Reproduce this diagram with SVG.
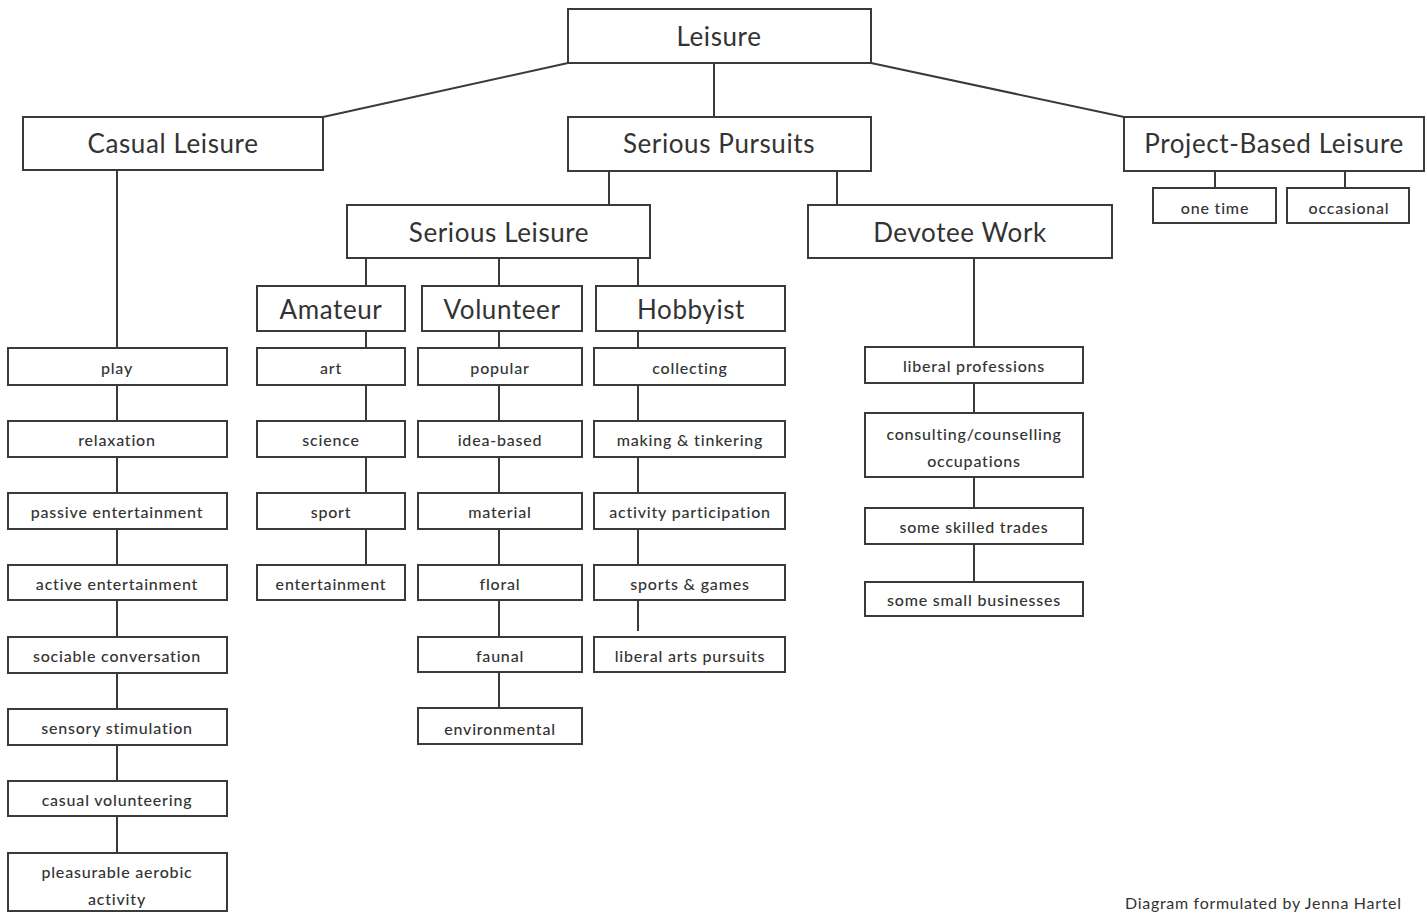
<svg xmlns="http://www.w3.org/2000/svg" width="1428" height="913" viewBox="0 0 1428 913">
<style>
rect{fill:#fff;stroke:#3a3a3a;stroke-width:2}
.c line{stroke:#3a3a3a;stroke-width:2}
.big{font-family:Lato,"Open Sans",sans-serif;font-size:26px;letter-spacing:0.6px;fill:#333;text-anchor:middle}
.sm{font-family:Lato,"Open Sans",sans-serif;font-size:16px;letter-spacing:0.8px;fill:#333;text-anchor:middle;font-weight:500}
.cr{font-family:Lato,"Open Sans",sans-serif;font-size:16px;letter-spacing:0.7px;fill:#333}
</style>
<rect x="0" y="0" width="1428" height="913" style="fill:#fff;stroke:none"/>
<g class="c" id="connectors">
<line x1="568" y1="63" x2="323" y2="117"/>
<line x1="871" y1="63" x2="1124" y2="117"/>
<line x1="714" y1="63" x2="714" y2="117"/>
<line x1="609" y1="171" x2="609" y2="205"/>
<line x1="837" y1="171" x2="837" y2="205"/>
<line x1="1215" y1="171" x2="1215" y2="188"/>
<line x1="1345" y1="171" x2="1345" y2="188"/>
<line x1="366" y1="258" x2="366" y2="286"/>
<line x1="499" y1="258" x2="499" y2="286"/>
<line x1="638" y1="258" x2="638" y2="286"/>
<line x1="117" y1="170" x2="117" y2="853"/>
<line x1="366" y1="331" x2="366" y2="565"/>
<line x1="499" y1="331" x2="499" y2="708"/>
<line x1="638" y1="331" x2="638" y2="565"/>
<line x1="638" y1="600" x2="638" y2="631"/>
<line x1="974" y1="258" x2="974" y2="582"/>
</g>
<g id="leisure"><rect x="568" y="9" width="303" height="54"/><text class="big" x="719" y="46">Leisure</text></g>
<g id="casual"><rect x="23" y="117" width="300" height="53"/><text class="big" x="173" y="153">Casual Leisure</text></g>
<g id="serious-pursuits"><rect x="568" y="117" width="303" height="54"/><text class="big" x="719" y="153">Serious Pursuits</text></g>
<g id="project"><rect x="1124" y="117" width="300" height="54"/><text class="big" x="1274" y="153">Project-Based Leisure</text></g>
<g id="one-time"><rect x="1153" y="188" width="123" height="35"/><text class="sm" x="1215" y="214">one time</text></g>
<g id="occasional"><rect x="1287" y="188" width="122" height="35"/><text class="sm" x="1349" y="214">occasional</text></g>
<g id="serious-leisure"><rect x="347" y="205" width="303" height="53"/><text class="big" x="499" y="242">Serious Leisure</text></g>
<g id="devotee"><rect x="808" y="205" width="304" height="53"/><text class="big" x="960" y="242">Devotee Work</text></g>
<g id="amateur"><rect x="257" y="286" width="148" height="45"/><text class="big" x="331" y="319">Amateur</text></g>
<g id="volunteer"><rect x="422" y="286" width="160" height="45"/><text class="big" x="502" y="319">Volunteer</text></g>
<g id="hobbyist"><rect x="596" y="286" width="189" height="45"/><text class="big" x="691" y="319">Hobbyist</text></g>

<g id="play"><rect x="8" y="348" width="219" height="37"/><text class="sm" x="117" y="374">play</text></g>
<g id="relaxation"><rect x="8" y="421" width="219" height="36"/><text class="sm" x="117" y="446">relaxation</text></g>
<g id="passive"><rect x="8" y="493" width="219" height="36"/><text class="sm" x="117" y="518">passive entertainment</text></g>
<g id="active"><rect x="8" y="565" width="219" height="35"/><text class="sm" x="117" y="590">active entertainment</text></g>
<g id="sociable"><rect x="8" y="637" width="219" height="36"/><text class="sm" x="117" y="662">sociable conversation</text></g>
<g id="sensory"><rect x="8" y="709" width="219" height="36"/><text class="sm" x="117" y="734">sensory stimulation</text></g>
<g id="casual-vol"><rect x="8" y="781" width="219" height="35"/><text class="sm" x="117" y="806">casual volunteering</text></g>
<g id="aerobic"><rect x="8" y="853" width="219" height="58"/><text class="sm" x="117" y="878">pleasurable aerobic</text><text class="sm" x="117" y="905">activity</text></g>

<g id="art"><rect x="257" y="348" width="148" height="37"/><text class="sm" x="331" y="374">art</text></g>
<g id="science"><rect x="257" y="421" width="148" height="36"/><text class="sm" x="331" y="446">science</text></g>
<g id="sport"><rect x="257" y="493" width="148" height="36"/><text class="sm" x="331" y="518">sport</text></g>
<g id="entertainment"><rect x="257" y="565" width="148" height="35"/><text class="sm" x="331" y="590">entertainment</text></g>

<g id="popular"><rect x="418" y="348" width="164" height="37"/><text class="sm" x="500" y="374">popular</text></g>
<g id="idea"><rect x="418" y="421" width="164" height="36"/><text class="sm" x="500" y="446">idea-based</text></g>
<g id="material"><rect x="418" y="493" width="164" height="36"/><text class="sm" x="500" y="518">material</text></g>
<g id="floral"><rect x="418" y="565" width="164" height="35"/><text class="sm" x="500" y="590">floral</text></g>
<g id="faunal"><rect x="418" y="637" width="164" height="35"/><text class="sm" x="500" y="662">faunal</text></g>
<g id="environmental"><rect x="418" y="708" width="164" height="36"/><text class="sm" x="500" y="735">environmental</text></g>

<g id="collecting"><rect x="594" y="348" width="191" height="37"/><text class="sm" x="690" y="374">collecting</text></g>
<g id="making"><rect x="594" y="421" width="191" height="36"/><text class="sm" x="690" y="446">making &amp; tinkering</text></g>
<g id="activity"><rect x="594" y="493" width="191" height="36"/><text class="sm" x="690" y="518">activity participation</text></g>
<g id="sports"><rect x="594" y="565" width="191" height="35"/><text class="sm" x="690" y="590">sports &amp; games</text></g>
<g id="liberal-arts"><rect x="594" y="637" width="191" height="35"/><text class="sm" x="690" y="662">liberal arts pursuits</text></g>

<g id="liberal-prof"><rect x="865" y="347" width="218" height="36"/><text class="sm" x="974" y="372">liberal professions</text></g>
<g id="consulting"><rect x="865" y="413" width="218" height="64"/><text class="sm" x="974" y="440">consulting/counselling</text><text class="sm" x="974" y="467">occupations</text></g>
<g id="skilled"><rect x="865" y="508" width="218" height="36"/><text class="sm" x="974" y="533">some skilled trades</text></g>
<g id="small-biz"><rect x="865" y="582" width="218" height="34"/><text class="sm" x="974" y="606">some small businesses</text></g>

<text class="cr" x="1125" y="909">Diagram formulated by Jenna Hartel</text>
</svg>
